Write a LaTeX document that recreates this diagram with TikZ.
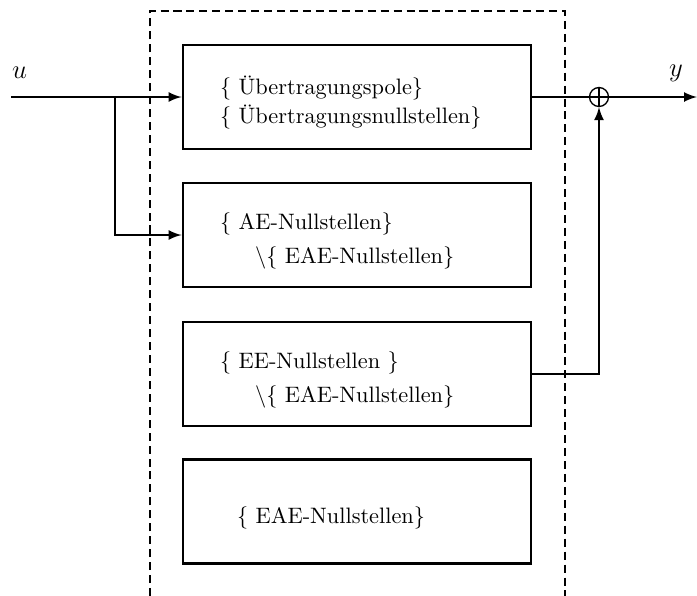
\documentclass[tikz,border=0pt]{standalone}
\usetikzlibrary{arrows}

\tikzset{
  >=latex,
  blockbox/.style={draw, line width=1.3pt, minimum width=155.9pt, minimum height=46.6pt,
    inner xsep=16.6pt, text width=122.7pt, text height=13pt, align=left},
  sigline/.style={line width=1pt},
  frameline/.style={line width=0.9pt, dash pattern=on 3.6pt off 2.2pt},
}

\begin{document}
\begin{tikzpicture}[x=0.448pt, y=-0.448pt]
  \useasboundingbox (0, 0) rectangle (697, 596);
  % dashed frame (open at the bottom)
  \draw[frameline] (150, 596) -- (150, 11) -- (565, 11) -- (565, 596);
  % blocks
  \node[blockbox] (pole) at (357, 97) {$\{$ Übertragungspole$\}$\\[1pt] $\{$ Übertragungsnullstellen$\}$};
  \node[blockbox] (ae) at (357, 235) {$\{$ AE-Nullstellen$\}$\\[3pt] \hspace*{15.7pt}$\backslash\{$ EAE-Nullstellen$\}$};
  \node[blockbox] (ee) at (357, 374) {$\{$ EE-Nullstellen $\}$\\[3pt] \hspace*{15.7pt}$\backslash\{$ EAE-Nullstellen$\}$};
  \node[blockbox] (eae) at (357, 511.5) {\hspace*{7.6pt}$\{$ EAE-Nullstellen$\}$};
  % summation point
  \node[draw, circle, line width=0.6pt, minimum size=8.5pt, inner sep=0pt] (sum) at (599, 97) {};
  \draw[line width=0.6pt] (sum.north) -- (sum.south);
  % signals
  \coordinate (in) at (11, 97);
  \coordinate (split) at (115, 97);
  \coordinate (out) at (697, 97);
  \node[font=\large] (u) at (19.5, 73) {$u$};
  \node[font=\large] (y) at (676, 73) {$y$};
  \draw[sigline, ->] (in) -- (pole.west);
  \draw[sigline, ->] (split) |- (ae.west);
  \draw[sigline, ->] (pole.east) -- (out);
  \draw[sigline, ->] (ee.east) -| (sum.south);
\end{tikzpicture}
\end{document}
